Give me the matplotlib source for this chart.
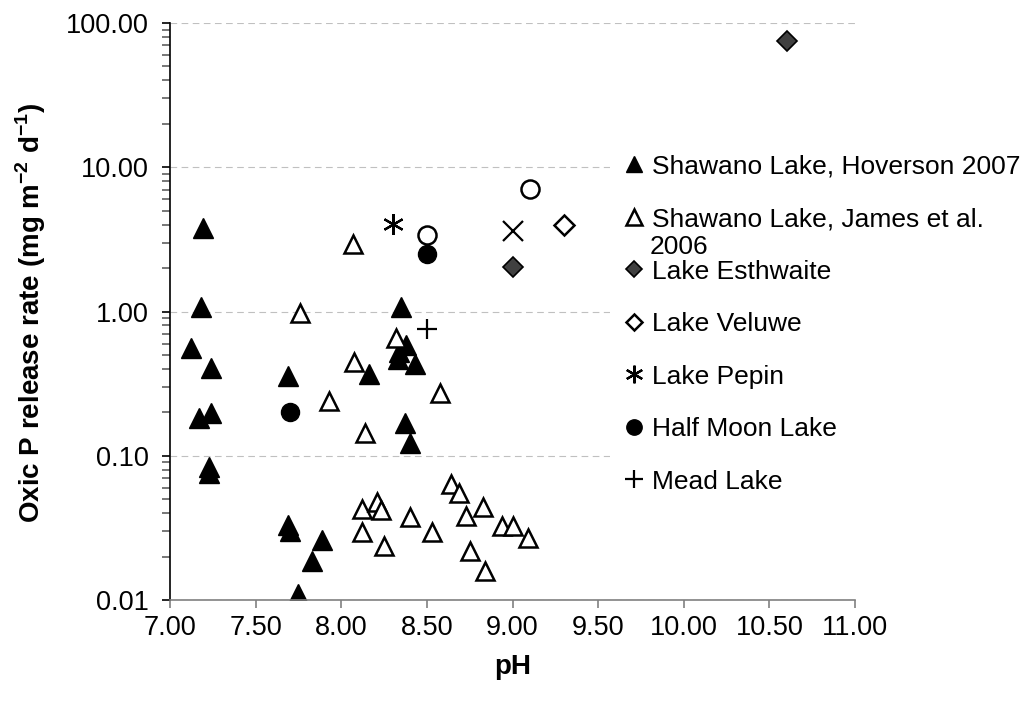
import matplotlib
matplotlib.use("Agg")
import matplotlib.pyplot as plt
from matplotlib.ticker import FixedLocator, FormatStrFormatter, LogLocator, NullFormatter

plt.rcParams['font.family'] = ['Liberation Sans', 'DejaVu Sans']
plt.rcParams['mathtext.fontset'] = 'custom'
plt.rcParams['mathtext.rm'] = 'Liberation Sans'
plt.rcParams['mathtext.bf'] = 'Liberation Sans:bold'

# data (pH, oxic P release rate)
hoverson_ph = [7.19, 7.18, 7.12, 7.24, 7.17, 7.24, 7.23, 7.23, 7.69, 7.69, 7.70,
               7.89, 7.83, 7.75, 8.16, 8.35, 8.38, 8.34, 8.33, 8.43, 8.37, 8.40]
hoverson_rate = [3.8, 1.08, 0.556, 0.408, 0.182, 0.197, 0.084, 0.076, 0.36, 0.033, 0.030,
                 0.026, 0.0185, 0.011, 0.37, 1.08, 0.59, 0.52, 0.47, 0.43, 0.168, 0.123]

james_ph = [7.76, 8.07, 8.32, 8.075, 8.575, 7.93, 8.14, 8.64, 8.69, 8.12, 8.21, 8.23,
            8.40, 8.73, 8.83, 8.12, 8.53, 8.25, 8.75, 8.84, 8.94, 9.00, 9.09]
james_rate = [0.98, 2.94, 0.66, 0.45, 0.274, 0.241, 0.143, 0.0634, 0.055, 0.0426, 0.0476, 0.042,
              0.0379, 0.038, 0.044, 0.0298, 0.0298, 0.0237, 0.022, 0.016, 0.0327, 0.0327, 0.0268]

esthwaite_ph = [9.00, 10.60]
esthwaite_rate = [2.03, 75.0]
veluwe_ph = [9.30]
veluwe_rate = [3.98]
pepin_ph = [8.30]
pepin_rate = [4.05]
halfmoon_ph = [7.70, 8.50]
halfmoon_rate = [0.202, 2.5]
mead_ph = [8.50]
mead_rate = [0.753]
# two series shown in the plot but missing from the legend
other_circle_ph = [8.50, 9.10]
other_circle_rate = [3.4, 7.08]
other_cross_ph = [9.00]
other_cross_rate = [3.62]

x_ticks = [7.0, 7.5, 8.0, 8.5, 9.0, 9.5, 10.0, 10.5, 11.0]
y_ticks = [0.01, 0.1, 1, 10, 100]

fig = plt.figure(figsize=(10.24, 7.07), dpi=100)
ax = fig.add_axes([170 / 1024, 1 - 600 / 707, 685 / 1024, 577 / 707])

ax.plot(hoverson_ph, hoverson_rate, ls='none', marker='^', ms=14, mfc='black', mec='black',
        mew=1, label='Shawano Lake, Hoverson 2007')
ax.plot(james_ph, james_rate, ls='none', marker='^', ms=13, mfc='white', mec='black',
        mew=1.8, label='Shawano Lake, James et al.')
ax.plot(esthwaite_ph, esthwaite_rate, ls='none', marker='D', ms=10, mfc='#404040', mec='black',
        mew=1.2, label='Lake Esthwaite')
ax.plot(veluwe_ph, veluwe_rate, ls='none', marker='D', ms=10, mfc='white', mec='black',
        mew=1.8, label='Lake Veluwe')
ax.plot(pepin_ph, pepin_rate, ls='none', marker=(6, 2, 0), ms=15, mec='black',
        mew=1.6, label='Lake Pepin')
ax.plot(halfmoon_ph, halfmoon_rate, ls='none', marker='o', ms=13, mfc='black', mec='black',
        mew=1, label='Half Moon Lake')
ax.plot(mead_ph, mead_rate, ls='none', marker='+', ms=15, mec='black',
        mew=1.6, label='Mead Lake')
ax.plot(other_circle_ph, other_circle_rate, ls='none', marker='o', ms=13, mfc='white',
        mec='black', mew=1.8, label='_nolegend_')
ax.plot(other_cross_ph, other_cross_rate, ls='none', marker='x', ms=15, mec='black',
        mew=1.6, label='_nolegend_')

ax.set_yscale('log')
ax.set_xlim(7.0, 11.0)
ax.set_ylim(0.01, 100)
ax.xaxis.set_major_locator(FixedLocator(x_ticks))
ax.xaxis.set_major_formatter(FormatStrFormatter('%.2f'))
ax.yaxis.set_major_locator(FixedLocator(y_ticks))
ax.yaxis.set_major_formatter(FormatStrFormatter('%.2f'))
ax.yaxis.set_minor_locator(LogLocator(base=10, subs=range(2, 10)))
ax.yaxis.set_minor_formatter(NullFormatter())

ax.grid(True, axis='y', which='major', color='#c0c0c0', lw=0.8, ls=(0, (6, 4)))
ax.set_axisbelow(True)

for side in ('top', 'right'):
    ax.spines[side].set_visible(False)
ax.spines['left'].set_color('black')
ax.spines['left'].set_linewidth(1.2)
ax.spines['bottom'].set_color('#808080')
ax.spines['bottom'].set_linewidth(1.2)

ax.tick_params(axis='both', which='major', labelsize=19.5, direction='out')
ax.tick_params(axis='x', which='major', length=6, width=1.2, color='#808080', pad=5)
ax.tick_params(axis='y', which='major', length=6, width=1.2, color='black', pad=9)
ax.tick_params(axis='y', which='minor', length=5.5, width=1.2, color='#606060')
ax.tick_params(axis='x', which='minor', bottom=False)

ax.set_xlabel('pH', fontsize=20, fontweight='bold')
ax.set_ylabel('Oxic P release rate (mg m$^{\\mathbf{-2}}$ d$^{\\mathbf{-1}}$)',
              fontsize=20, fontweight='bold')
ax.xaxis.set_label_coords(0.5, -0.093)
ax.yaxis.set_label_coords(-0.204, 0.497)
ax.yaxis.label.set_va('center')

leg = ax.legend(loc='upper left', bbox_to_anchor=(610 / 1024, 1 - 144 / 707),
                bbox_transform=fig.transFigure, borderaxespad=0, borderpad=0.4,
                fontsize=19, handlelength=1.0, handletextpad=0.2, labelspacing=1.08,
                markerscale=0.85, frameon=True, fancybox=False)
leg.get_frame().set_facecolor('white')
leg.get_frame().set_edgecolor('none')
leg.get_frame().set_alpha(1.0)

# second line of the James et al. entry, overflowing into the next row like the original
ax.annotate('2006', xy=(0, 0), xycoords=leg.get_texts()[1], xytext=(-2, -3),
            textcoords='offset points', va='top', ha='left', fontsize=19,
            annotation_clip=False, zorder=10)

fig.savefig('out.png', dpi=100)
